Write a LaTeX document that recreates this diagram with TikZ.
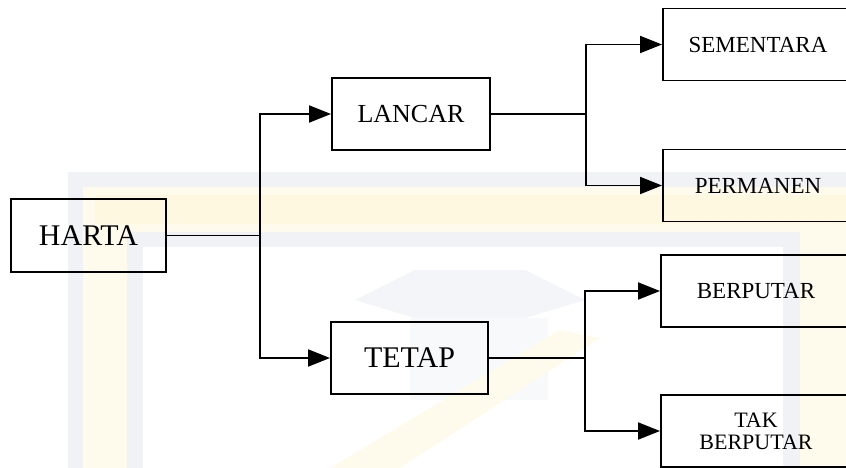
\documentclass[tikz,border=0pt]{standalone}
\usepackage{fontspec}
\setmainfont{Liberation Serif}
\usetikzlibrary{arrows.meta}
\definecolor{wmgray}{RGB}{241,242,246}
\definecolor{wmyellow}{RGB}{255,251,236}
\definecolor{wmgold}{RGB}{255,248,224}
\newcommand{\bigfont}{\fontsize{30}{32}\selectfont}
\newcommand{\midfont}{\fontsize{26}{28}\selectfont}
\newcommand{\smallfont}{\fontsize{23}{21}\selectfont}

\begin{document}
\begin{tikzpicture}[x=1pt,y=-1pt,
  box/.style={draw, line width=1.9pt, inner sep=0pt, align=center},
  leafbox/.style={box, minimum width=190pt, minimum height=72pt, font=\smallfont},
  link/.style={line width=1.9pt},
  arr/.style={line width=1.9pt, -{Triangle[length=22pt,width=17pt]}},
]
\useasboundingbox (0,0) rectangle (846,468);
% ===== Watermark (faint frame and cap) =====
\fill[wmgray]   (68,172)  rectangle (870,480);
\fill[wmyellow] (83,187)  rectangle (870,480);
\fill[wmgold]   (95,195)  rectangle (870,224);
\fill[wmgray]   (127,232) rectangle (800,480);
\fill[white]    (143,247) rectangle (783,480);
\fill[wmgray!80] (355,300) -- (415,270) -- (525,270) -- (585,300) -- (525,318) -- (415,318) -- cycle;
\fill[wmgray!50] (410,318) rectangle (548,400);
\fill[wmyellow] (330,468) -- (560,330) -- (600,338) -- (400,468) -- cycle;

% ===== Nodes =====
\node[box, minimum width=155pt, minimum height=73pt, font=\bigfont] (harta)  at (88.5,235.5) {HARTA};
\node[box, minimum width=158pt, minimum height=72pt, font=\midfont] (lancar) at (411,114)    {LANCAR};
\node[box, minimum width=157pt, minimum height=72pt, font=\bigfont] (tetap)  at (409.5,358)  {TETAP};
\node[leafbox] (sementara)   at (758,44.5)  {SEMENTARA};
\node[leafbox] (permanen)    at (758,185.5) {PERMANEN};
\node[leafbox] (berputar)    at (756,291)   {BERPUTAR};
\node[leafbox, font=\fontsize{22}{22}\selectfont] (takberputar) at (756,431) {TAK\\BERPUTAR};

% ===== Branch points =====
\coordinate (hj) at (260,235.5);
\coordinate (lj) at (586,114);
\coordinate (tj) at (585,358);

% ===== Connectors =====
% --- HARTA -> LANCAR / TETAP ---
\draw[link] (harta.east) -- (hj);
\draw[arr] (hj) |- (lancar.west);
\draw[arr] (hj) |- (tetap.west);
% --- LANCAR -> SEMENTARA / PERMANEN ---
\draw[link] (lancar.east) -- (lj);
\draw[arr] (lj) |- (sementara.west);
\draw[arr] (lj) |- (permanen.west);
% --- TETAP -> BERPUTAR / TAK BERPUTAR ---
\draw[link] (tetap.east) -- (tj);
\draw[arr] (tj) |- (berputar.west);
\draw[arr] (tj) |- (takberputar.west);
\end{tikzpicture}
\end{document}
